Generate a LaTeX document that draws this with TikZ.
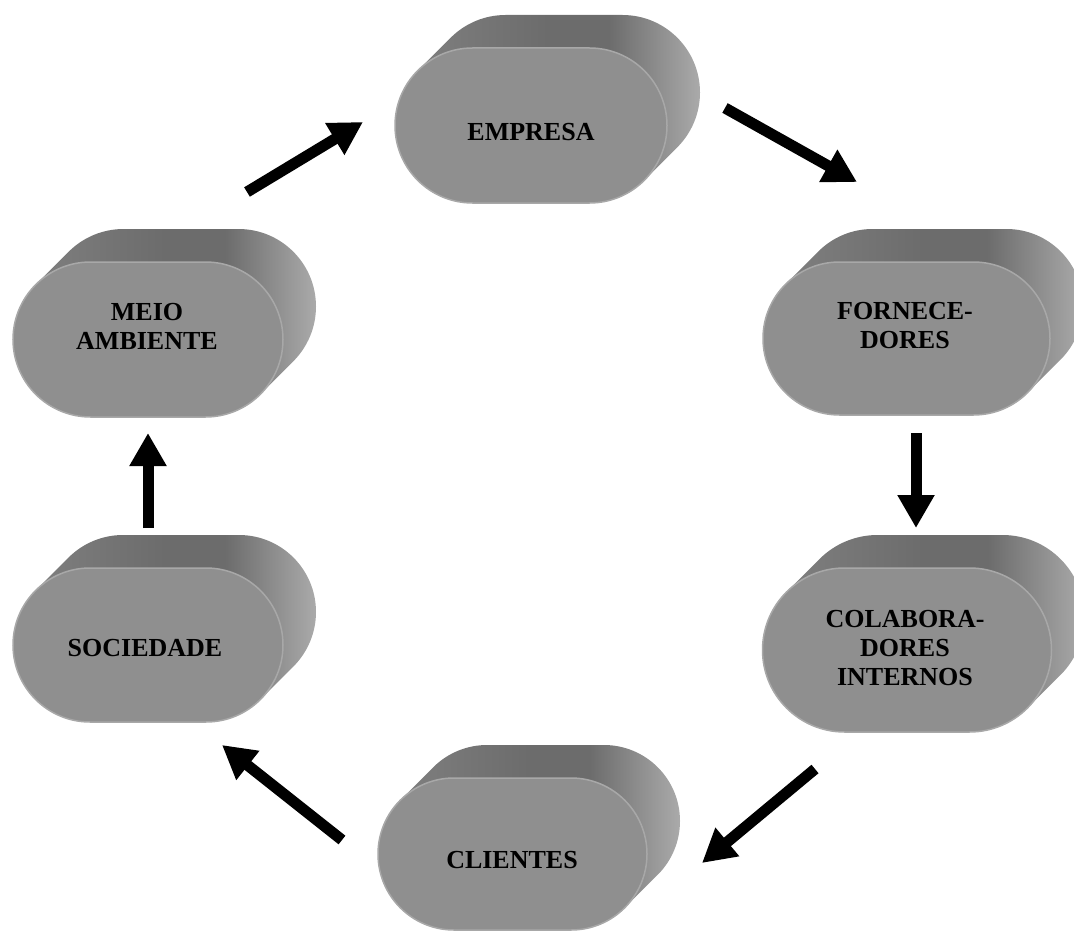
\documentclass[tikz,border=0pt]{standalone}
\usepackage{fontspec}
\setmainfont{Liberation Serif}
\usetikzlibrary{arrows.meta}
\definecolor{frontgray}{RGB}{143,143,143}
\definecolor{rimgray}{RGB}{168,168,168}
\definecolor{sidel}{RGB}{130,130,130}
\definecolor{sidem}{RGB}{108,108,108}
\definecolor{sider}{RGB}{170,170,170}
\pgfdeclarehorizontalshading{drumshade}{100bp}{color(0bp)=(sidel); color(25bp)=(sidel);
  color(50bp)=(sidem); color(60bp)=(sidem); color(75bp)=(sider); color(100bp)=(sider)}
\tikzstyle{side}=[shading=drumshade]
\tikzstyle{frnt}=[fill=frontgray, draw=rimgray, line width=1.5pt]
\tikzstyle{lbl}=[align=center, font=\bfseries\fontsize{26}{29}\selectfont]
\tikzstyle{blk}=[-{Triangle[length=33pt,width=35pt]}, line width=11pt, black]

% drum: centre x, centre y, half straight part, radius
\newcommand{\drum}[4]{%
  \shade[side] ({#1-#3-0.7071*#4},{#2-0.7071*#4}) -- ++(33,-33)
    arc[start angle=135, end angle=90, radius=#4pt] -- ({#1+#3+33},{#2-#4-33})
    arc[start angle=90, end angle=-45, radius=#4pt] -- ++(-33,33)
    arc[start angle=-45, end angle=-90, radius=#4pt] -- ({#1-#3},{#2+#4})
    arc[start angle=270, end angle=135, radius=#4pt] -- cycle;
  \draw[frnt] ({#1-#3},{#2-#4}) -- ({#1+#3},{#2-#4})
    arc[start angle=90, end angle=-90, radius=#4pt] -- ({#1-#3},{#2+#4})
    arc[start angle=270, end angle=90, radius=#4pt] -- cycle;
}

\begin{document}
\begin{tikzpicture}[x=1pt, y=-1pt]
\useasboundingbox (0,0) rectangle (1074,931);

% drums
\drum{531}{125.5}{58.5}{77.5}
\drum{906.5}{338.5}{67}{76.5}
\drum{148}{339.5}{57.5}{77.5}
\drum{148}{645}{58}{77}
\drum{907}{650}{62.5}{82}
\drum{512.5}{854}{58.5}{76}

% labels
\node[lbl] (emp) at (531,132) {EMPRESA};
\node[lbl] (forn) at (905,326) {FORNECE-\\DORES};
\node[lbl] (meio) at (147,326) {MEIO\\AMBIENTE};
\node[lbl] (soc) at (145,648) {SOCIEDADE};
\node[lbl] (colab) at (905,648) {COLABORA-\\DORES\\INTERNOS};
\node[lbl] (cli) at (512,860) {CLIENTES};

% arrow ends
\coordinate (meio-out) at (247,192);
\coordinate (emp-in) at (363,122);
\coordinate (emp-out) at (725,108);
\coordinate (forn-in) at (857,182);
\coordinate (forn-out) at (916,433);
\coordinate (colab-in) at (916,528);
\coordinate (colab-out) at (815,769);
\coordinate (cli-in) at (702,863);
\coordinate (cli-out) at (342,840);
\coordinate (soc-in) at (222,745);
\coordinate (soc-out) at (148,528);
\coordinate (meio-in) at (148,433);

% arrows
\draw[blk] (meio-out) -- (emp-in);
\draw[blk] (emp-out) -- (forn-in);
\draw[blk] (forn-out) -- (colab-in);
\draw[blk] (colab-out) -- (cli-in);
\draw[blk] (cli-out) -- (soc-in);
\draw[blk] (soc-out) -- (meio-in);

\end{tikzpicture}
\end{document}
